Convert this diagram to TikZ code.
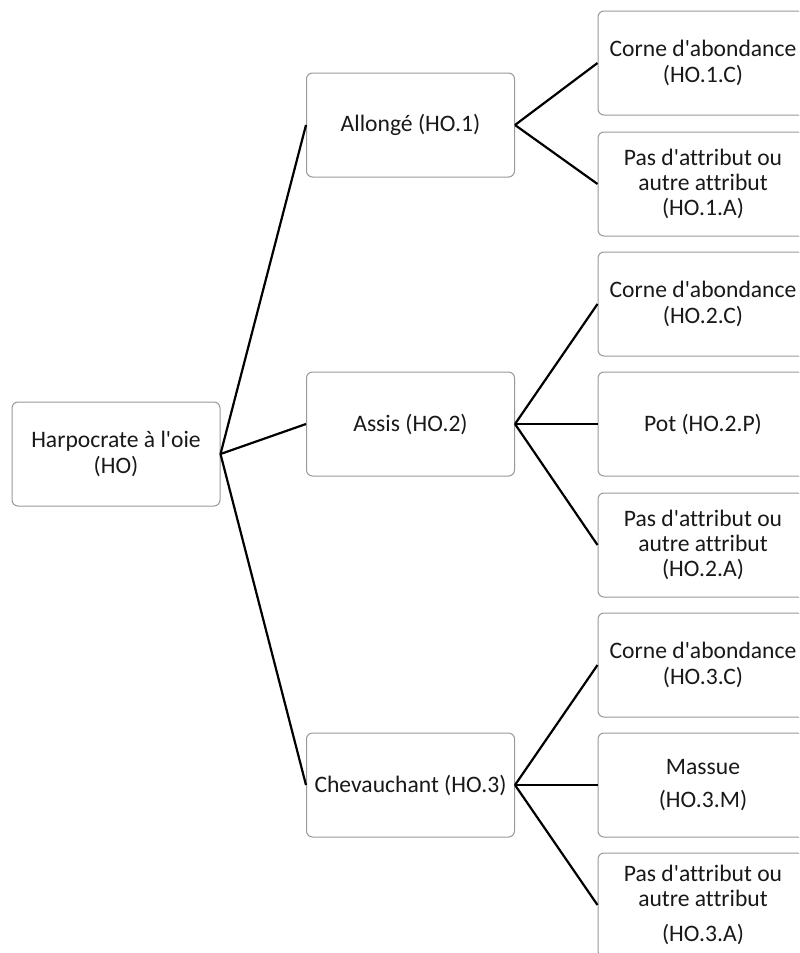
\documentclass[tikz,border=0pt]{standalone}
\usepackage{fontspec}
\setmainfont{Carlito}[Ligatures={TeXOff,CommonOff}]
\tikzset{
    boxnode/.style={
        rectangle,
        rounded corners=3pt,
        draw=black!40, % bordure grise
        fill=white,
        line width=0.5pt,
        minimum width=104pt,
        minimum height=52pt,
        inner sep=0,
        align=center,
        text=black!90,
        font=\fontsize{11.8}{12.6}\selectfont
    },
    leafnode/.style={
        boxnode,
        minimum width=105pt
    },
    link/.style={
        draw=black,
        line width=1.1pt
    }
}

\begin{document}
\begin{tikzpicture}[x=0.5pt, y=-0.5pt]
    \useasboundingbox (0,0) rectangle (799,953);
    \clip (0,0) rectangle (799,953);
    % racine
    \node[boxnode] (ho) at (116,454) {Harpocrate à l'oie\\(HO)};
    % niveau 1
    \node[boxnode] (ho1) at (410.5,125) {Allongé (HO.1)};
    \node[boxnode] (ho2) at (410.5,424) {Assis (HO.2)};
    \node[boxnode] (ho3) at (410.5,785) {Chevauchant (HO.3)};
    % niveau 2
    \node[leafnode] (ho1c) at (703,63) {Corne d'abondance\\(HO.1.C)};
    \node[leafnode] (ho1a) at (703,184) {Pas d'attribut ou\\autre attribut\\(HO.1.A)};
    \node[leafnode] (ho2c) at (703,304) {Corne d'abondance\\(HO.2.C)};
    \node[leafnode] (ho2p) at (703,424) {Pot (HO.2.P)};
    \node[leafnode] (ho2a) at (703,545) {Pas d'attribut ou\\autre attribut\\(HO.2.A)};
    \node[leafnode] (ho3c) at (703,665) {Corne d'abondance\\(HO.3.C)};
    \node[leafnode] (ho3m) at (703,785) {Massue\\[4pt](HO.3.M)};
    \node[leafnode] (ho3a) at (703,905) {Pas d'attribut ou\\autre attribut\\[5pt](HO.3.A)};
    % liens
    \foreach \n in {ho1,ho2,ho3}
        \draw[link] (ho.east) -- (\n.west);
    \foreach \n in {ho1c,ho1a}
        \draw[link] (ho1.east) -- (\n.west);
    \foreach \n in {ho2c,ho2p,ho2a}
        \draw[link] (ho2.east) -- (\n.west);
    \foreach \n in {ho3c,ho3m,ho3a}
        \draw[link] (ho3.east) -- (\n.west);
\end{tikzpicture}
\end{document}
